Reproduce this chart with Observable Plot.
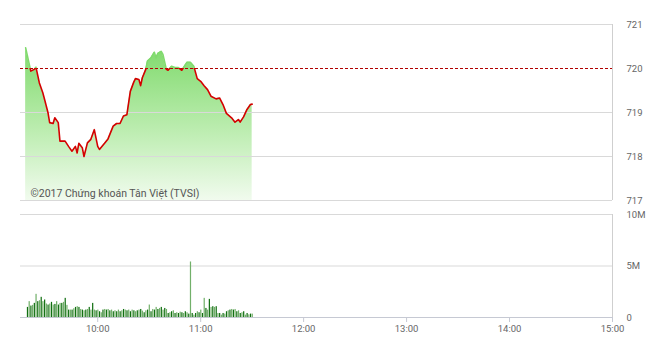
<!DOCTYPE html>
<html>
<head>
<meta charset="utf-8">
<script src="https://cdn.jsdelivr.net/npm/d3@7"></script>
<script src="https://cdn.jsdelivr.net/npm/@observablehq/plot@0.6"></script>
<style>
  html, body { margin: 0; padding: 0; background: #fff; }
  #chart { width: 660px; height: 347px; overflow: hidden; }
  #chart svg { display: block; }
</style>
</head>
<body>
<div id="chart"></div>
<script>
// ---- data ----
const priceTimes = ["9:18","9:21","9:23","9:24","9:26","9:28","9:29","9:31","9:32","9:34","9:35","9:37","9:38","9:41","9:43","9:45","9:47","9:48","9:49","9:51","9:52","9:54","9:56","9:58","10:00","10:01","10:04","10:06","10:09","10:11","10:13","10:15","10:17","10:19","10:21","10:22","10:24","10:25","10:26","10:28","10:29","10:31","10:33","10:34","10:35","10:37","10:38","10:40","10:41","10:43","10:45","10:47","10:49","10:50","10:52","10:54","10:56","10:58","11:00","11:02","11:04","11:06","11:09","11:11","11:13","11:15","11:18","11:20","11:22","11:23","11:25","11:27","11:29","11:30"];
const priceValues = [720.47,719.94,719.98,720.03,719.67,719.45,719.30,719.00,718.77,718.75,718.88,718.77,718.35,718.35,718.23,718.12,718.23,718.08,718.30,718.20,718.00,718.31,718.39,718.61,718.23,718.16,718.30,718.40,718.69,718.75,718.75,718.92,718.95,719.48,719.69,719.77,719.75,719.61,719.79,719.98,720.17,720.24,720.37,720.24,720.34,720.39,720.32,719.98,719.96,720.05,720.02,720.02,719.96,720.02,720.14,720.14,720.05,719.77,719.71,719.61,719.52,719.37,719.31,719.33,719.18,718.98,718.88,718.78,718.84,718.78,718.90,719.07,719.18,719.19];

const volumeStart = "9:19"; // one bar per minute
const volumeValues = [0.98,1.54,1.11,1.18,1.37,2.25,1.54,1.63,1.96,1.54,
  1.70,1.31,1.21,1.31,1.47,1.21,1.27,1.54,1.21,1.37,
  1.37,1.47,1.86,1.18,0.72,0.72,0.72,0.85,0.98,1.05,
  0.98,0.78,0.72,0.65,0.72,0.78,0.98,0.72,1.37,0.72,
  0.65,0.72,0.56,0.46,0.72,0.78,0.72,0.78,0.65,0.72,0.56,
  0.65,0.56,0.72,0.56,0.65,0.78,0.72,0.65,0.72,
  0.56,0.72,0.65,0.56,0.65,0.72,0.78,0.62,0.46,
  0.65,0.72,1.21,0.56,0.78,0.72,0.98,0.78,0.88,0.98,0.72,0.88,0.78,0.39,0.46,0.56,0.65,0.39,0.46,0.39,0.52,0.46,0.39,0.56,0.46,0.33,5.39,0.39,0.23,0.39,0.56,0.46,0.72,0.39,1.86,0.88,0.72,1.76,0.98,1.05,0.98,1.05,0.39,0.39,
  0.23,0.39,0.33,0.56,0.65,0.72,0.78,0.72,0.78,
  0.56,0.65,0.39,0.46,0.56,0.23,
  0.39,0.26,0.33,0.33]; // millions

const referenceLevel = 720;
const priceTicks = [717, 718, 719, 720, 721];
const volumeTicks = [0, 5, 10];
const volumeTickLabels = ["0", "5M", "10M"];
const timeTickLabels = ["10:00", "11:00", "12:00", "13:00", "14:00", "15:00"];
const sessionRange = ["9:15", "15:00"];
const caption = "©2017 Chứng khoán Tân Việt (TVSI)";

// ---- helpers ----
const toMin = s => { const [h, m] = s.split(":").map(Number); return h * 60 + m; };
const xDomain = sessionRange.map(toMin);
const timeTicks = timeTickLabels.map(toMin);
const price = priceTimes.map((t, i) => ({ t: toMin(t), v: priceValues[i] }));
const vStart = toMin(volumeStart);
const volume = volumeValues.map((v, i) => ({ t: vStart + i, v, i }));

const font = { fontFamily: "Roboto, 'Noto Sans', sans-serif", fontSize: "9.5px", color: "#666", background: "transparent", overflow: "visible" };

const topChart = Plot.plot({
  width: 660, height: 207,
  marginLeft: 20, marginRight: 48, marginTop: 24, marginBottom: 7,
  x: { domain: xDomain, axis: null },
  y: { domain: [priceTicks[0], priceTicks[priceTicks.length - 1]], axis: null },
  style: font,
  marks: [
    Plot.areaY(price, { x: "t", y1: priceTicks[0], y2: "v", fill: "url(#areaGrad)" }),
    Plot.ruleY(priceTicks.filter(d => d !== referenceLevel), { stroke: "#d9d9d9", strokeWidth: 1 }),
    Plot.ruleX([xDomain[1]], { stroke: "#cfcfcf" }),
    Plot.ruleY([referenceLevel], { stroke: "#b00000", strokeDasharray: "3,2", strokeWidth: 1 }),
    Plot.line(price, { x: "t", y: "v", stroke: "url(#lineGrad)", strokeWidth: 1.6 }),
    Plot.text([caption], { frameAnchor: "bottom-left", dx: 10, dy: -4, fill: "#555", fontSize: 10.5 }),
    Plot.axisY(priceTicks, { anchor: "right", label: null, tickSize: 0, tickPadding: 14, fill: "#666", textAnchor: "start" })
  ]
});

// gradients
const yRef = topChart.scale("y").apply(referenceLevel);
const svgTop = d3.select(topChart.tagName === "svg" ? topChart : topChart.querySelector("svg"));
const defs = svgTop.insert("defs", ":first-child");
const ag = defs.append("linearGradient").attr("id", "areaGrad").attr("x1", 0).attr("y1", 0).attr("x2", 0).attr("y2", 1);
ag.append("stop").attr("offset", 0).attr("stop-color", "#80da6d");
ag.append("stop").attr("offset", 0.55).attr("stop-color", "#bdedb1");
ag.append("stop").attr("offset", 1).attr("stop-color", "#f1fbee");
const lg = defs.append("linearGradient").attr("id", "lineGrad").attr("gradientUnits", "userSpaceOnUse")
  .attr("x1", 0).attr("y1", 0).attr("x2", 0).attr("y2", 207);
const off = yRef / 207;
lg.append("stop").attr("offset", 0).attr("stop-color", "#80da6d");
lg.append("stop").attr("offset", off).attr("stop-color", "#80da6d");
lg.append("stop").attr("offset", off).attr("stop-color", "#d40000");
lg.append("stop").attr("offset", 1).attr("stop-color", "#d40000");

const bottomChart = Plot.plot({
  width: 660, height: 140,
  marginLeft: 20, marginRight: 48, marginTop: 7, marginBottom: 30,
  x: { domain: xDomain, axis: null },
  y: { domain: [volumeTicks[0], volumeTicks[volumeTicks.length - 1]], axis: null },
  style: font,
  marks: [
    Plot.ruleY(volumeTicks.slice(1), { stroke: "#d9d9d9" }),
    Plot.ruleX([xDomain[1]], { stroke: "#cfcfcf" }),
    Plot.rectY(volume.filter(d => d.i % 2 === 0), { x1: "t", x2: d => d.t + 1, y1: 0, y2: "v", fill: "#116f11", insetRight: 0.5 }),
    Plot.rectY(volume.filter(d => d.i % 2 === 1), { x1: "t", x2: d => d.t + 1, y1: 0, y2: "v", fill: "#72b06a", insetRight: 0.5 }),
    Plot.ruleY([0], { stroke: "#c6c9d3" }),
    Plot.axisY(volumeTicks, { anchor: "right", label: null, tickSize: 0, tickPadding: 14, fill: "#666", textAnchor: "start",
      tickFormat: d => volumeTickLabels[volumeTicks.indexOf(d)] }),
    Plot.axisX(timeTicks, { anchor: "bottom", label: null, tickSize: 5, tickPadding: 3, stroke: "#c6c9d3", fill: "#666",
      tickFormat: d => timeTickLabels[timeTicks.indexOf(d)] })
  ]
});

document.getElementById("chart").append(topChart, bottomChart);
</script>
</body>
</html>
